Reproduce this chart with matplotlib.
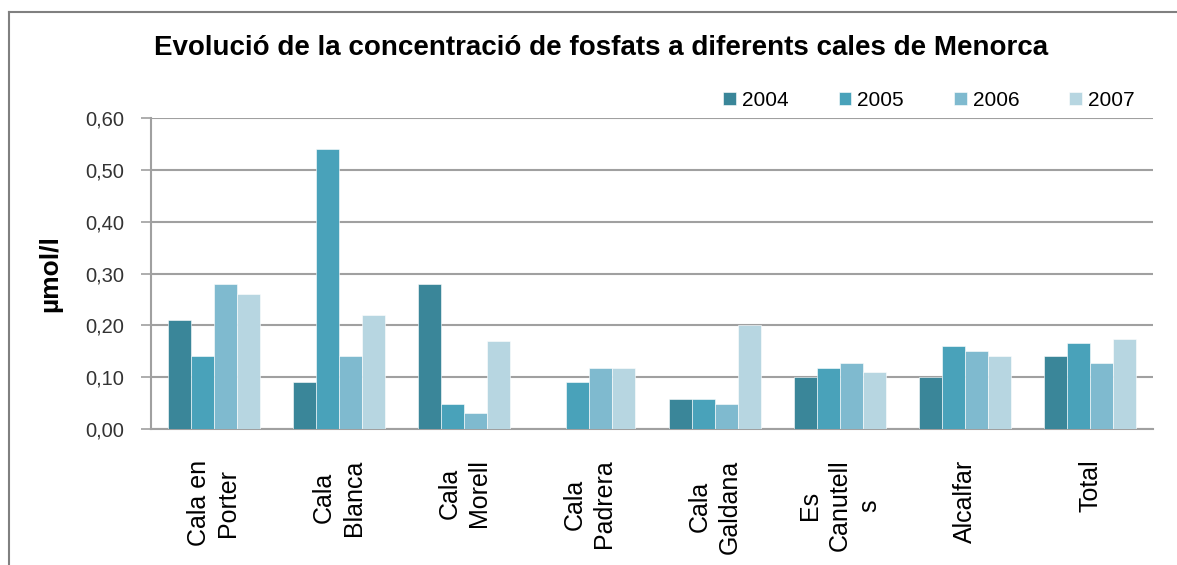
import numpy as np
import matplotlib
matplotlib.use("Agg")
import matplotlib.pyplot as plt
from matplotlib.lines import Line2D

plt.rcParams['font.family'] = ['Liberation Sans', 'DejaVu Sans']

categories = ["Cala en\nPorter", "Cala\nBlanca", "Cala\nMorell", "Cala\nPadrera",
              "Cala\nGaldana", "Es\nCanutell\ns", "Alcalfar", "Total"]
years = ["2004", "2005", "2006", "2007"]
v2004 = [0.21, 0.09, 0.28, 0.00, 0.058, 0.10, 0.10, 0.14]
v2005 = [0.14, 0.54, 0.048, 0.09, 0.058, 0.117, 0.16, 0.165]
v2006 = [0.28, 0.14, 0.03, 0.117, 0.048, 0.127, 0.15, 0.127]
v2007 = [0.26, 0.22, 0.17, 0.117, 0.20, 0.11, 0.14, 0.174]
yticks = [0.0, 0.1, 0.2, 0.3, 0.4, 0.5, 0.6]
ytick_labels = ["0,00", "0,10", "0,20", "0,30", "0,40", "0,50", "0,60"]
colors = ["#3A8699", "#49A2BA", "#7FBACF", "#B7D6E1"]

fig = plt.figure(figsize=(11.77, 5.65), dpi=100)
ax = fig.add_axes([151/1177, 1-429/565, (1153-151)/1177, (429-118)/565])

series = [v2004, v2005, v2006, v2007]
x = np.arange(len(categories))
w = 0.184
for i, (vals, c, yr) in enumerate(zip(series, colors, years)):
    ax.bar(x + (i - 1.5) * w, vals, width=w, color=c, edgecolor='white',
           linewidth=0.4, label=yr, zorder=3)

ax.set_xlim(-0.5, len(categories) - 0.5)
ax.set_ylim(0, 0.6)
ax.set_yticks(yticks)
ax.set_yticklabels(ytick_labels, fontsize=14.5, color='#333333')
ax.set_xticks(x)
ax.set_xticklabels(categories, rotation=90, fontsize=18, linespacing=1.3,
                   va='top', ha='center')
ax.tick_params(axis='x', length=0, pad=22)
ax.tick_params(axis='y', length=7, color='#A0A0A0', width=1.2, pad=12)
ax.grid(axis='y', color='#A0A0A0', linewidth=1.5, zorder=0)
for s in ['top', 'right']:
    ax.spines[s].set_visible(False)
for s in ['left', 'bottom']:
    ax.spines[s].set_color('#A0A0A0')
    ax.spines[s].set_linewidth(1.5)

ax.set_ylabel("µmol/l", fontsize=19, fontweight='bold')
ax.yaxis.set_label_coords(-0.089, 0.5)

fig.text(601/1177, 1-48/565, "Evolució de la concentració de fosfats a diferents cales de Menorca",
         ha='center', va='center', fontsize=20, fontweight='bold')

leg = fig.legend(loc='center', bbox_to_anchor=(929/1177, 1-100/565), ncol=4,
                 frameon=False, fontsize=15, handlelength=0.6, handleheight=0.6,
                 handletextpad=0.3, columnspacing=2.4)

# outer frame lines (left and top)
fig.add_artist(Line2D([9/1177, 9/1177], [0, 1-12/565], transform=fig.transFigure,
                      color='#808080', linewidth=1.5))
fig.add_artist(Line2D([9/1177, 1], [1-12/565, 1-12/565], transform=fig.transFigure,
                      color='#808080', linewidth=1.5))

fig.savefig("out.png", dpi=100)
